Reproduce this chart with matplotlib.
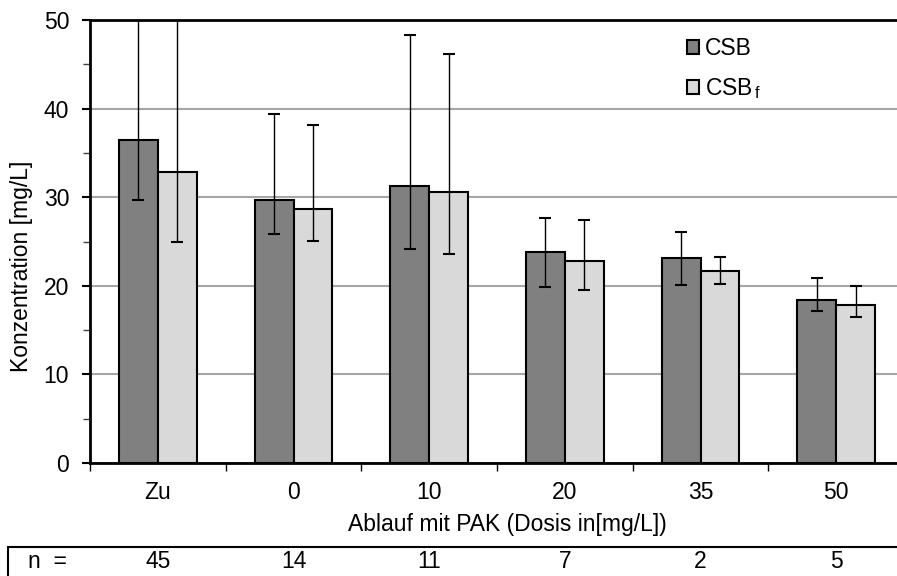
import matplotlib
matplotlib.use("Agg")
import matplotlib.pyplot as plt
import matplotlib.transforms as mtransforms
from matplotlib.patches import Rectangle
import numpy as np

plt.rcParams['font.family'] = ['Liberation Sans', 'DejaVu Sans']
plt.rcParams['mathtext.fontset'] = 'custom'
plt.rcParams['mathtext.rm'] = 'Liberation Sans'

categories = ["Zu", "0", "10", "20", "35", "50"]
csb = [36.4, 29.7, 31.3, 23.8, 23.1, 18.4]
csb_low = [29.7, 25.8, 24.1, 19.9, 20.1, 17.2]
csb_high = [56.0, 39.4, 48.3, 27.6, 26.1, 20.9]
csbf = [32.8, 28.7, 30.6, 22.8, 21.7, 17.8]
csbf_low = [24.9, 25.1, 23.6, 19.5, 20.2, 16.5]
csbf_high = [54.0, 38.2, 46.2, 27.4, 23.2, 20.0]
n_values = [45, 14, 11, 7, 2, 5]

W, H = 897, 576
fig = plt.figure(figsize=(W / 100, H / 100), dpi=100)
ax = fig.add_axes([90 / W, (H - 463) / H, 814 / W, 443 / H])

x = np.arange(len(categories))
w = 0.287
fs_tick = 16.5
fs_lab = 16.5

def err(vals, lo, hi):
    v = np.array(vals)
    return np.vstack([v - np.array(lo), np.array(hi) - v])

ax.bar(x - w / 2, csb, w, color="#808080", edgecolor="black", linewidth=1.5,
       zorder=2, label="CSB")
ax.bar(x + w / 2, csbf, w, color="#d9d9d9", edgecolor="black", linewidth=1.5,
       zorder=2, label="CSB$_{\\mathregular{\\,f}}$")
ax.errorbar(x - w / 2, csb, yerr=err(csb, csb_low, csb_high), fmt="none",
            ecolor="black", elinewidth=1.0, capsize=4.3, capthick=1.5, zorder=3)
ax.errorbar(x + w / 2, csbf, yerr=err(csbf, csbf_low, csbf_high), fmt="none",
            ecolor="black", elinewidth=1.0, capsize=4.3, capthick=1.5, zorder=3)

ax.set_xlim(-0.5, len(categories) - 0.5)
ax.set_ylim(0, 50)
ax.set_yticks([0, 10, 20, 30, 40, 50])
ax.set_yticks([5, 15, 25, 35, 45], minor=True)
ax.yaxis.grid(True, color="#a6a6a6", linewidth=1.5, zorder=0)
ax.set_axisbelow(True)
ax.tick_params(axis="y", which="major", direction="out", length=6, width=1.5,
               labelsize=fs_tick, pad=9, color="black")
ax.tick_params(axis="y", which="minor", direction="out", length=5, width=1.0,
               color="#404040")

ax.set_xticks(x)
ax.set_xticklabels(categories, fontsize=fs_tick)
ax.set_xticks(np.arange(len(categories) + 1) - 0.5, minor=True)
ax.tick_params(axis="x", which="major", length=0, pad=13)
ax.tick_params(axis="x", which="minor", direction="out", length=6, width=1.0)

for s in ["left", "bottom", "top"]:
    ax.spines[s].set_linewidth(2.0)
    ax.spines[s].set_color("black")
ax.spines["right"].set_visible(False)

fig.text(22 / W, 1 - 266 / H, "Konzentration [mg/L]", fontsize=fs_lab,
         rotation=90, ha="center", va="center")
fig.text(507 / W, 1 - 524 / H, "Ablauf mit PAK (Dosis in[mg/L])",
         fontsize=fs_lab, ha="center", va="center")

leg = ax.legend(loc="upper left", bbox_to_anchor=(0.722, 0.982), frameon=False,
                fontsize=fs_lab, handlelength=0.55, handleheight=0.55,
                handletextpad=0.22, labelspacing=0.68, borderaxespad=0)

# n row beneath the chart
fig.patches.append(Rectangle((8 / W, -0.1), 1.0, (H - 547) / H + 0.1,
                             transform=fig.transFigure, fill=False,
                             edgecolor="black", linewidth=1.5))
trans = mtransforms.blended_transform_factory(ax.transData, fig.transFigure)
fig.text(28 / W, 1 - 562 / H, "n  =", fontsize=fs_tick, ha="left", va="center")
for xi, nv in zip(x, n_values):
    fig.text(xi, 1 - 562 / H, str(nv), fontsize=fs_tick, ha="center",
             va="center", transform=trans)

fig.savefig("out.png", dpi=100)
